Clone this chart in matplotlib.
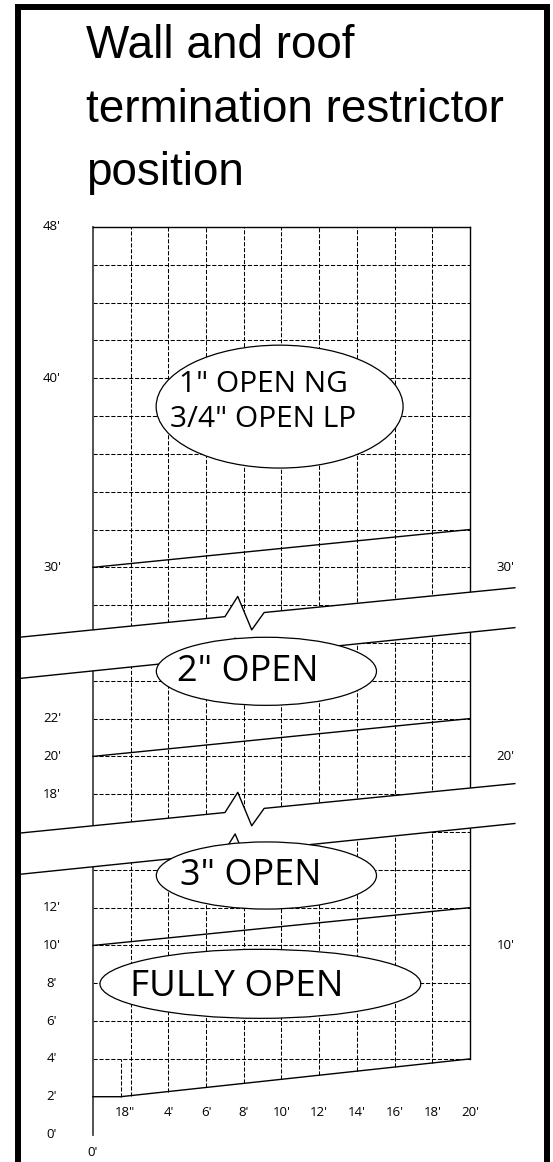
import matplotlib
matplotlib.use('Agg')
import matplotlib.pyplot as plt
import numpy as np
from matplotlib.patches import Ellipse, Rectangle, Polygon

# column positions along the run (0 = wall), labels under each column line
col_pos = np.arange(0, 11)
col_labels = ["0'", '18"', "4'", "6'", "8'", "10'", "12'", "14'", "16'", "18'", "20'"]

# vertical rise in feet, labelled on the left side
rise_labels = [48, 40, 30, 22, 20, 18, 12, 10, 8, 6, 4, 2, 0]
# labels on the right side
side_labels = [30, 20, 10]

# dashed grid rows (feet)
grid_rows = [4, 6, 8, 10, 12, 14, 16, 18, 20, 22, 24, 26, 28, 30,
             32, 34, 36, 38, 40, 42, 44, 46]

# restrictor boundaries: rise at the wall and at 20'
bound_start = [10, 20, 30]
bound_end = [12, 22, 32]

# floor of the chart (min. rise)
floor_x = [0, 0.73, 10]
floor_y = [2, 2, 4]

# break bands (zigzag cut lines)
break_top_x = [-1.91, 3.50, 3.84, 4.21, 4.54, 11.19]
break_top_y = [26.31, 27.39, 28.46, 26.69, 27.61, 28.92]
break_bot_x = [-1.91, 3.45, 3.77, 4.14, 4.47, 11.19]
break_bot_y = [24.13, 25.23, 26.26, 24.50, 25.43, 26.81]
break_shift = [0.0, -10.36]

# zones: text, centre (col, ft), size (cols, ft), font size
zone_text = ['1" OPEN NG\n3/4" OPEN LP', '2" OPEN', '3" OPEN', 'FULLY OPEN']
zone_center = [(4.95, 38.50), (4.60, 24.50), (4.60, 13.70), (4.44, 7.97)]
zone_size = [(6.55, 6.50), (5.84, 3.60), (5.84, 3.55), (8.51, 3.65)]
zone_text_pos = [(4.52, 38.75), (4.10, 24.44), (4.19, 13.70), (3.81, 7.82)]
zone_font = [21.5, 26, 26, 26.5]

plt.rcParams['font.family'] = ['Open Sans', 'DejaVu Sans']

fig = plt.figure(figsize=(5.53, 11.62), dpi=100)
ax = fig.add_axes([0, 0, 1, 1])
ax.set_xlim(-2.467, 12.202)
ax.set_ylim(-1.453, 60.006)
ax.axis('off')

dash = (0, (4, 1.7))

# dashed columns, from the floor up to 48'
for c in col_pos[1:-1]:
    ax.plot([c, c], [np.interp(c, floor_x, floor_y), 48], color='black',
            lw=0.75, linestyle=dash, zorder=1)
ax.plot([floor_x[1], floor_x[1]], [floor_y[1], 4], color='black',
        lw=0.75, linestyle=dash, zorder=1)

# dashed rows
for r in grid_rows:
    ax.plot([0, 10], [r, r], color='black', lw=0.75, linestyle=dash, zorder=1)

# outline of the chart
ax.plot([0, 0], [0, 48], color='#444444', lw=1.3, zorder=2)
ax.plot([0, 10], [48, 48], color='black', lw=1.0, zorder=2)
ax.plot([10, 10], [floor_y[-1], 48], color='black', lw=1.0, zorder=2)
ax.plot(floor_x, floor_y, color='black', lw=1.0, zorder=2)

# restrictor boundaries
for y0, y1 in zip(bound_start, bound_end):
    ax.plot([0, 10], [y0, y1], color='black', lw=1.0, zorder=2)

# break bands
for s in break_shift:
    top = np.array(break_top_y) + s
    bot = np.array(break_bot_y) + s
    pts = list(zip(break_top_x, top)) + list(zip(break_bot_x, bot))[::-1]
    ax.add_patch(Polygon(pts, closed=True, facecolor='white',
                         edgecolor='none', zorder=3))
    ax.plot(break_top_x, top, color='black', lw=1.0, zorder=4)
    ax.plot(break_bot_x, bot, color='black', lw=1.0, zorder=4)

# zone ellipses and captions
for txt, cen, size, tpos, fs in zip(zone_text, zone_center, zone_size,
                                    zone_text_pos, zone_font):
    ax.add_patch(Ellipse(cen, size[0], size[1], facecolor='white',
                         edgecolor='black', lw=0.9, zorder=5))
    ax.text(tpos[0], tpos[1], txt, ha='center', va='center', fontsize=fs,
            linespacing=1.25, zorder=6)

# axis labels
for v in rise_labels:
    ax.text(-1.09, v, f"{v}'", ha='center', va='center', fontsize=9.5)
for v in side_labels:
    ax.text(10.95, v, f"{v}'", ha='center', va='center', fontsize=9.5)
for c, lab in zip(col_pos[1:], col_labels[1:]):
    xpos = 0.85 if lab == '18"' else c
    ax.text(xpos, 1.16, lab, ha='center', va='center', fontsize=9.5)
ax.text(col_pos[0], -0.94, col_labels[0], ha='center', va='center', fontsize=9.5)

# title
title_lines = ['Wall and roof', 'termination restrictor', 'position']
title_base = [58, 121.7, 185]
for line, yb in zip(title_lines, title_base):
    fig.text(85.7 / 553, 1 - yb / 1162, line, ha='left', va='baseline',
             fontsize=33, family=['Liberation Sans', 'DejaVu Sans'])

# outer frame
fig.add_artist(Rectangle((18 / 553, -0.1), 529 / 553, 1.1 - 7 / 1162,
                         transform=fig.transFigure, fill=False,
                         edgecolor='black', lw=4.3, clip_on=False))

fig.savefig('out.png', dpi=100)
